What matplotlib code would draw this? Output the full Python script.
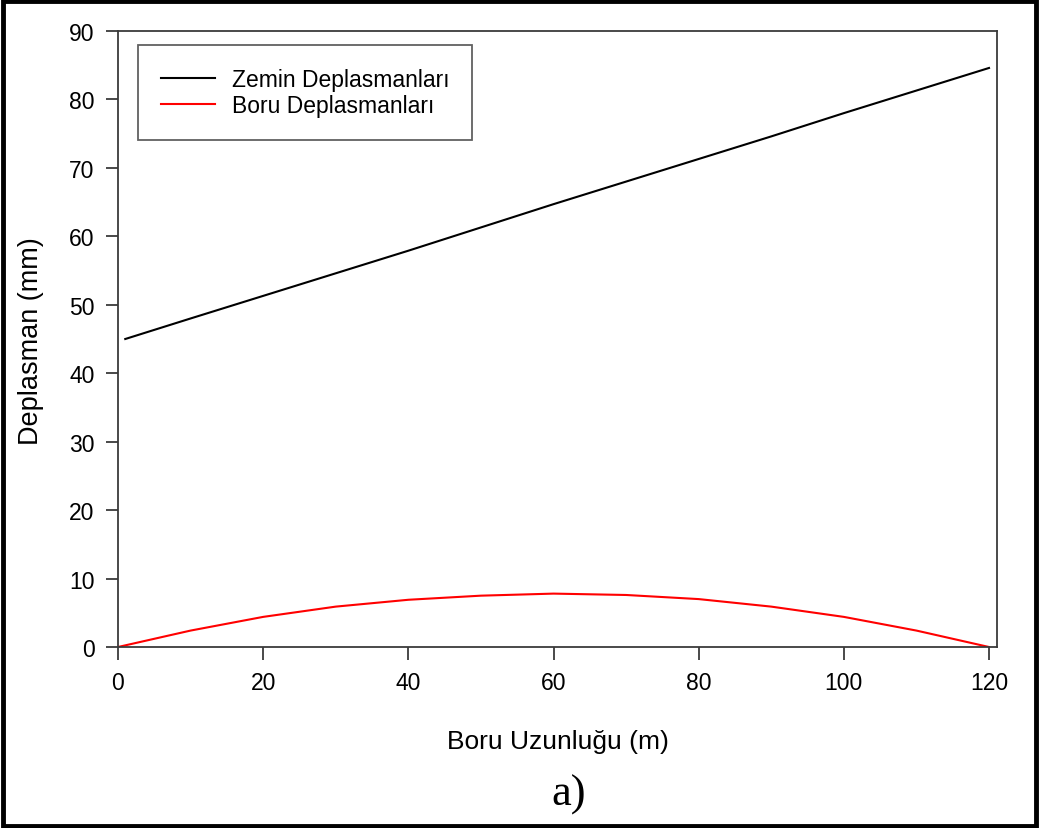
import matplotlib
matplotlib.use("Agg")
import matplotlib.pyplot as plt
from matplotlib.patches import Rectangle

# Ground displacement along the pipe
zemin_x = [1, 10, 20, 30, 40, 50, 60, 70, 80, 90, 100, 110, 120]
zemin_y = [45.0, 48.0, 51.3, 54.6, 57.9, 61.3, 64.7, 68.0, 71.3, 74.6, 78.0, 81.3, 84.6]

# Pipe displacement along the pipe
boru_x = [0, 5, 10, 15, 20, 30, 40, 50, 60, 70, 80, 90, 100, 105, 110, 115, 120]
boru_y = [0.0, 1.2, 2.4, 3.4, 4.4, 5.9, 6.9, 7.5, 7.8, 7.6, 7.0, 5.9, 4.4, 3.4, 2.4, 1.2, 0.0]

xticks = [0, 20, 40, 60, 80, 100, 120]
yticks = [0, 10, 20, 30, 40, 50, 60, 70, 80, 90]

plt.rcParams['font.family'] = ['Liberation Sans', 'DejaVu Sans']

W, H = 1039, 829
fig = plt.figure(figsize=(W / 100, H / 100), dpi=100)
ax = fig.add_axes([118 / W, 1 - 648 / H, (997 - 118) / W, (648 - 32) / H])

ax.plot(zemin_x, zemin_y, color='black', lw=1.5, label='Zemin Deplasmanları')
ax.plot(boru_x, boru_y, color='red', lw=1.5, label='Boru Deplasmanları')

ax.set_xlim(0, 121.1)
ax.set_ylim(0, 90)
ax.set_xticks(xticks)
ax.set_yticks(yticks)
for s in ax.spines.values():
    s.set_color('#3a3a3a')
    s.set_linewidth(1.3)
ax.tick_params(direction='out', length=9, width=1.3, color='#3a3a3a',
               labelsize=16.5, pad=8)

# Axis titles placed in figure coordinates
fig.text(31 / W, 1 - 341 / H, 'Deplasman (mm)', fontsize=19.5, rotation=90,
         ha='center', va='center')
fig.text(558 / W, 1 - 742 / H, 'Boru Uzunluğu (m)', fontsize=19,
         ha='center', va='center')

leg = ax.legend(loc='upper left', bbox_to_anchor=((138 - 118) / 879, (648 - 46) / 616),
                fontsize=16.5, frameon=True, fancybox=False, edgecolor='#3a3a3a',
                handlelength=2.35, handletextpad=0.75, borderpad=1.0,
                labelspacing=0.15, borderaxespad=0)
leg.get_frame().set_linewidth(1.3)

fig.text(569 / W, 1 - 795 / H, 'a)', fontsize=32,
         family='Liberation Serif', ha='center', va='center')

fig.patches.append(Rectangle((0.003, 0.003), 0.994, 0.994, transform=fig.transFigure,
                             fill=False, edgecolor='black', lw=3.5))

fig.savefig('out.png', dpi=100)
